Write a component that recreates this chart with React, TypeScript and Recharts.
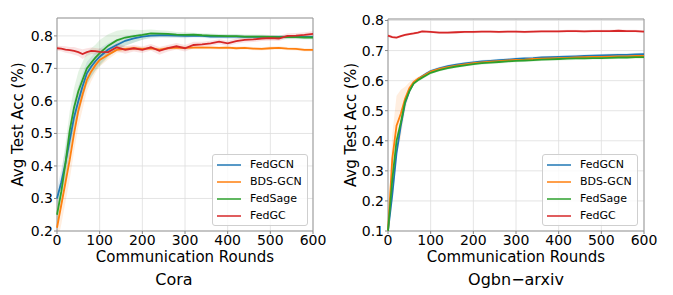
import { ComposedChart, Line, Area, XAxis, YAxis, CartesianGrid, ReferenceArea, Legend } from "recharts";

const rounds = [0, 10, 20, 30, 40, 50, 60, 70, 80, 90, 100, 120, 140, 160, 180, 200, 220, 240, 260, 280, 300, 320, 340, 360, 380, 400, 420, 440, 460, 480, 500, 520, 540, 560, 580, 600];
const xTicks = [0, 100, 200, 300, 400, 500, 600];
const names = ["FedGCN", "BDS-GCN", "FedSage", "FedGC"];
const colors = ["#1f77b4", "#ff7f0e", "#2ca02c", "#d62728"];

// Cora
const coraFedGCN = [0.30, 0.35, 0.41, 0.48, 0.55, 0.60, 0.645, 0.685, 0.705, 0.722, 0.736, 0.758, 0.772, 0.785, 0.792, 0.798, 0.801, 0.802, 0.802, 0.801, 0.80, 0.801, 0.80, 0.798, 0.798, 0.798, 0.798, 0.797, 0.797, 0.797, 0.797, 0.797, 0.797, 0.797, 0.797, 0.797];
const coraBDS = [0.21, 0.28, 0.35, 0.42, 0.50, 0.57, 0.62, 0.665, 0.69, 0.71, 0.726, 0.742, 0.757, 0.760, 0.762, 0.760, 0.762, 0.758, 0.762, 0.764, 0.763, 0.764, 0.764, 0.764, 0.763, 0.764, 0.762, 0.763, 0.761, 0.760, 0.762, 0.763, 0.761, 0.760, 0.757, 0.757];
const coraFedSage = [0.25, 0.32, 0.41, 0.51, 0.58, 0.63, 0.665, 0.70, 0.717, 0.733, 0.747, 0.770, 0.786, 0.795, 0.799, 0.803, 0.808, 0.807, 0.806, 0.804, 0.803, 0.804, 0.802, 0.801, 0.80, 0.799, 0.799, 0.798, 0.798, 0.798, 0.797, 0.796, 0.796, 0.796, 0.795, 0.795];
const coraFedGC = [0.762, 0.761, 0.758, 0.756, 0.754, 0.750, 0.744, 0.750, 0.754, 0.753, 0.751, 0.750, 0.765, 0.757, 0.762, 0.757, 0.765, 0.754, 0.762, 0.768, 0.762, 0.772, 0.774, 0.777, 0.782, 0.777, 0.784, 0.788, 0.789, 0.792, 0.793, 0.792, 0.800, 0.801, 0.803, 0.806];

const coraFedGCNStd = [0.03, 0.04, 0.045, 0.05, 0.05, 0.045, 0.04, 0.035, 0.03, 0.028, 0.025, 0.02, 0.018, 0.015, 0.012, 0.01, 0.009, 0.008, 0.008, 0.007, 0.007, 0.006, 0.006, 0.006, 0.006, 0.006, 0.006, 0.006, 0.006, 0.006, 0.006, 0.006, 0.006, 0.006, 0.006, 0.006];
const coraBDSStd = [0.05, 0.06, 0.06, 0.06, 0.055, 0.05, 0.045, 0.035, 0.03, 0.025, 0.02, 0.015, 0.01, 0.008, 0.006, 0.005, 0.005, 0.005, 0.005, 0.005, 0.005, 0.005, 0.005, 0.005, 0.005, 0.005, 0.005, 0.005, 0.005, 0.005, 0.005, 0.005, 0.005, 0.005, 0.005, 0.005];
const coraFedSageStd = [0.04, 0.05, 0.06, 0.06, 0.06, 0.06, 0.055, 0.05, 0.045, 0.04, 0.04, 0.035, 0.03, 0.025, 0.02, 0.015, 0.012, 0.01, 0.01, 0.008, 0.008, 0.006, 0.006, 0.006, 0.006, 0.006, 0.006, 0.006, 0.006, 0.006, 0.006, 0.006, 0.006, 0.006, 0.006, 0.006];
const coraFedGCStd = [0.008, 0.008, 0.01, 0.01, 0.012, 0.012, 0.015, 0.012, 0.01, 0.01, 0.01, 0.01, 0.012, 0.012, 0.01, 0.01, 0.01, 0.012, 0.01, 0.01, 0.01, 0.01, 0.008, 0.008, 0.008, 0.008, 0.008, 0.008, 0.008, 0.008, 0.008, 0.008, 0.008, 0.008, 0.008, 0.008];

// Ogbn-arxiv
const arxivFedGCN = [0.10, 0.22, 0.36, 0.45, 0.525, 0.565, 0.592, 0.605, 0.615, 0.624, 0.632, 0.641, 0.648, 0.653, 0.657, 0.661, 0.664, 0.666, 0.668, 0.670, 0.672, 0.674, 0.675, 0.677, 0.678, 0.679, 0.680, 0.681, 0.682, 0.683, 0.684, 0.685, 0.686, 0.686, 0.687, 0.688];
const arxivBDS = [0.10, 0.34, 0.45, 0.49, 0.54, 0.575, 0.595, 0.606, 0.614, 0.622, 0.630, 0.639, 0.645, 0.650, 0.654, 0.658, 0.661, 0.663, 0.665, 0.667, 0.669, 0.670, 0.672, 0.673, 0.674, 0.675, 0.676, 0.677, 0.678, 0.679, 0.679, 0.680, 0.681, 0.681, 0.682, 0.682];
const arxivFedSage = [0.10, 0.27, 0.40, 0.46, 0.53, 0.565, 0.59, 0.601, 0.610, 0.618, 0.626, 0.635, 0.642, 0.647, 0.651, 0.655, 0.658, 0.660, 0.662, 0.664, 0.666, 0.667, 0.668, 0.670, 0.671, 0.672, 0.673, 0.674, 0.674, 0.675, 0.675, 0.676, 0.677, 0.677, 0.678, 0.678];
const arxivFedGC = [0.750, 0.745, 0.743, 0.748, 0.752, 0.755, 0.757, 0.760, 0.764, 0.763, 0.762, 0.760, 0.760, 0.761, 0.762, 0.762, 0.763, 0.763, 0.762, 0.763, 0.763, 0.762, 0.763, 0.764, 0.764, 0.764, 0.765, 0.765, 0.764, 0.765, 0.765, 0.765, 0.766, 0.765, 0.765, 0.763];

const arxivFedGCNStd = [0.01, 0.02, 0.015, 0.01, 0.008, 0.006, 0.005, 0.005, 0.005, 0.005, 0.005, 0.005, 0.005, 0.005, 0.005, 0.005, 0.005, 0.005, 0.005, 0.005, 0.005, 0.005, 0.005, 0.005, 0.005, 0.005, 0.005, 0.005, 0.005, 0.005, 0.005, 0.005, 0.005, 0.005, 0.005, 0.005];
const arxivBDSStd = [0.01, 0.08, 0.1, 0.08, 0.04, 0.02, 0.01, 0.006, 0.005, 0.004, 0.004, 0.004, 0.004, 0.004, 0.004, 0.004, 0.004, 0.004, 0.004, 0.004, 0.004, 0.004, 0.004, 0.004, 0.004, 0.004, 0.004, 0.004, 0.004, 0.004, 0.004, 0.004, 0.004, 0.004, 0.004, 0.004];
const arxivFedSageStd = [0.01, 0.02, 0.015, 0.01, 0.008, 0.006, 0.005, 0.005, 0.005, 0.005, 0.005, 0.005, 0.005, 0.005, 0.005, 0.005, 0.005, 0.005, 0.005, 0.005, 0.005, 0.005, 0.005, 0.005, 0.005, 0.005, 0.005, 0.005, 0.005, 0.005, 0.005, 0.005, 0.005, 0.005, 0.005, 0.005];
const arxivFedGCStd = [0.004, 0.004, 0.004, 0.004, 0.004, 0.004, 0.004, 0.004, 0.004, 0.004, 0.004, 0.004, 0.004, 0.004, 0.004, 0.004, 0.004, 0.004, 0.004, 0.004, 0.004, 0.004, 0.004, 0.004, 0.004, 0.004, 0.004, 0.004, 0.004, 0.004, 0.004, 0.004, 0.004, 0.004, 0.004, 0.004];

const font = "'DejaVu Sans', sans-serif";

const buildRows = (values: number[][], stds: number[][]) =>
  rounds.map((r, i) => {
    const row: any = { round: r };
    names.forEach((n, k) => {
      row[n] = values[k][i];
      row[n + "_band"] = [values[k][i] - stds[k][i], values[k][i] + stds[k][i]];
    });
    return row;
  });

const LegendBox = () => (
  <div
    style={{
      width: 94,
      height: 69,
      border: "1px solid #cfcfcf",
      borderRadius: 3,
      background: "rgba(255,255,255,0.8)",
      paddingTop: 1,
      boxSizing: "content-box",
      fontFamily: font,
      fontSize: 11,
    }}
  >
    {names.map((n, k) => (
      <div key={n} style={{ height: 17, display: "flex", alignItems: "center" }}>
        <div style={{ width: 24, height: 2, marginLeft: 4, background: colors[k], opacity: 0.75 }} />
        <span style={{ marginLeft: 9, color: "#000" }}>{n}</span>
      </div>
    ))}
  </div>
);

type PanelProps = {
  rows: any[];
  width: number;
  yDomain: [number, number];
  yTicks: number[];
  yAxisWidth: number;
  top: number;
  right: number;
  yLabelX: number;
  legendLeft: number;
};

const Panel = ({ rows, width, yDomain, yTicks, yAxisWidth, top, right, yLabelX, legendLeft }: PanelProps) => (
  <ComposedChart width={width} height={295} data={rows} margin={{ top, right, bottom: 31, left: 0 }} style={{ fontFamily: font }}>
    <CartesianGrid stroke="#dddddd" strokeWidth={0.8} />
    <XAxis
      dataKey="round"
      type="number"
      domain={[0, 600]}
      ticks={xTicks}
      height={33}
      axisLine={false}
      tickSize={3}
      tickMargin={1}
      tickLine={{ stroke: "#888" }}
      tick={{ fill: "#000", fontSize: 14 }}
      interval={0}
      label={{ value: "Communication Rounds", position: "insideBottom", offset: 2, style: { fill: "#000", fontSize: 15 } }}
    />
    <YAxis
      type="number"
      domain={yDomain}
      ticks={yTicks}
      allowDataOverflow
      width={yAxisWidth}
      axisLine={false}
      tickSize={3}
      tickMargin={1}
      tickLine={{ stroke: "#888" }}
      tick={{ fill: "#000", fontSize: 14 }}
      tickFormatter={(v: number) => v.toFixed(1)}
      interval={0}
      label={{ value: "Avg Test Acc (%)", angle: -90, position: "insideLeft", offset: yLabelX, style: { fill: "#000", fontSize: 15, textAnchor: "middle" } }}
    />
    {names.map((n, k) => (
      <Area
        key={n + "_band"}
        dataKey={n + "_band"}
        type="linear"
        stroke="none"
        fill={colors[k]}
        fillOpacity={0.13}
        isAnimationActive={false}
        legendType="none"
      />
    ))}
    {names.map((n, k) => (
      <Line key={n} dataKey={n} type="linear" stroke={colors[k]} strokeWidth={1.8} dot={false} isAnimationActive={false} />
    ))}
    <ReferenceArea x1={0} x2={600} y1={yDomain[0]} y2={yDomain[1]} fill="none" stroke="#999" strokeWidth={1} ifOverflow="visible" />
    <Legend
      layout="horizontal"
      verticalAlign="middle"
      align="center"
      content={() => <LegendBox />}
      wrapperStyle={{ left: legendLeft, top: 154, width: 96, height: 71 }}
    />
  </ComposedChart>
);

const App = () => {
  const coraRows = buildRows([coraFedGCN, coraBDS, coraFedSage, coraFedGC], [coraFedGCNStd, coraBDSStd, coraFedSageStd, coraFedGCStd]);
  const arxivRows = buildRows([arxivFedGCN, arxivBDS, arxivFedSage, arxivFedGC], [arxivFedGCNStd, arxivBDSStd, arxivFedSageStd, arxivFedGCStd]);
  return (
    <div style={{ position: "absolute", left: 0, top: 0, width: 673, height: 295, background: "#fff", fontFamily: font }}>
      <div style={{ position: "absolute", left: 0, top: 0 }}>
        <Panel rows={coraRows} width={330} yDomain={[0.2, 0.855]} yTicks={[0.2, 0.3, 0.4, 0.5, 0.6, 0.7, 0.8]} yAxisWidth={57} top={18} right={17} yLabelX={18} legendLeft={212} />
      </div>
      <div style={{ position: "absolute", left: 337, top: 0 }}>
        <Panel rows={arxivRows} width={336} yDomain={[0.1, 0.805]} yTicks={[0.1, 0.2, 0.3, 0.4, 0.5, 0.6, 0.7, 0.8]} yAxisWidth={51} top={19} right={29} yLabelX={13.5} legendLeft={205} />
      </div>
      <div style={{ position: "absolute", left: 124, top: 272, width: 100, textAlign: "center", fontSize: 16, lineHeight: "16px" }}>Cora</div>
      <div style={{ position: "absolute", left: 456, top: 272, width: 120, textAlign: "center", fontSize: 16, lineHeight: "16px" }}>Ogbn−arxiv</div>
    </div>
  );
};

export default App;
